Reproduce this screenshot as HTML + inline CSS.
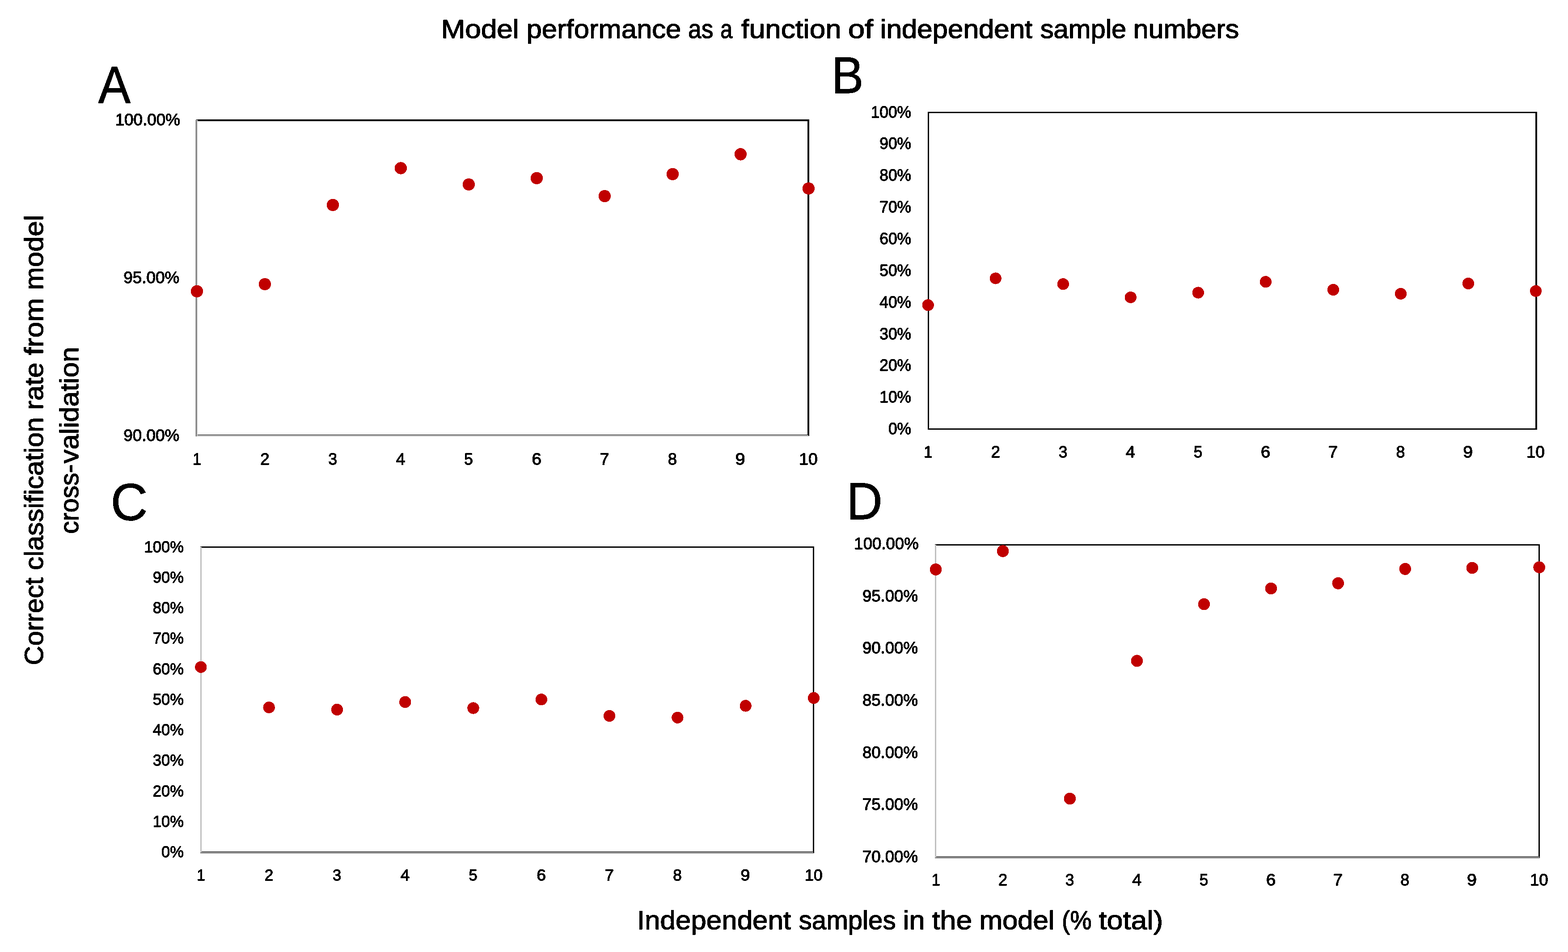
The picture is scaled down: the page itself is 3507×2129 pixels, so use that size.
<!DOCTYPE html>
<html lang="en">
<head>
<meta charset="utf-8">
<title>Model performance as a function of independent sample numbers</title>
<style>
html,body{margin:0;padding:0;background:#fff;}
body{width:3507px;height:2129px;overflow:hidden;}
svg{display:block;}
text{font-family:"Liberation Sans",sans-serif;fill:#000;stroke:#000;stroke-linejoin:round;font-kerning:none;text-rendering:geometricPrecision;}
.frame rect{shape-rendering:crispEdges;}
.pts circle{fill:#c00000;}
</style>
</head>
<body>
<svg width="3507" height="2129" viewBox="0 0 3507 2129">
<rect x="0" y="0" width="3507" height="2129" fill="#fff"/>
<g class="frame">
<g id="panel-a-frame">
<rect x="439" y="267" width="1371" height="4"/>
<rect x="1806" y="267" width="4" height="708"/>
<rect x="438" y="268" width="1" height="708"/>
<rect x="439" y="268" width="3" height="708" fill="#bfbfbf"/>
<rect x="442" y="972" width="1364" height="1"/>
<rect x="439" y="973" width="1369" height="3" fill="#bfbfbf"/>
</g>
<g id="panel-b-frame">
<rect x="2075" y="250" width="1363" height="3"/>
<rect x="2075" y="250" width="3" height="711"/>
<rect x="3434" y="250" width="4" height="711"/>
<rect x="2075" y="958" width="1363" height="3"/>
</g>
<g id="panel-c-frame">
<rect x="448" y="1222" width="1373" height="3"/>
<rect x="1818" y="1222" width="3" height="686"/>
<rect x="448" y="1223" width="3" height="684" fill="#bfbfbf"/>
<rect x="451" y="1904" width="1367" height="1"/>
<rect x="451" y="1905" width="1368" height="2" fill="#bfbfbf"/>
<rect x="448" y="1907" width="1371" height="1"/>
</g>
<g id="panel-d-frame">
<rect x="2091" y="1217" width="1353" height="3"/>
<rect x="3441" y="1217" width="3" height="702"/>
<rect x="2091" y="1218" width="3" height="699" fill="#bfbfbf"/>
<rect x="2094" y="1915" width="1347" height="1"/>
<rect x="2094" y="1916" width="1349" height="2" fill="#bfbfbf"/>
<rect x="2091" y="1918" width="1352" height="1"/>
</g>
</g>
<defs><filter id="bin" x="0" y="0" width="3507" height="2129" filterUnits="userSpaceOnUse" color-interpolation-filters="sRGB"><feComponentTransfer><feFuncA type="discrete" tableValues="0 0 1 1 1"/></feComponentTransfer></filter></defs>
<g class="labels" filter="url(#bin)">
<g id="titles-labels">
<text font-size="58.43" stroke-width="1.2"><tspan x="986.85" y="85" textLength="174.23" lengthAdjust="spacingAndGlyphs">Model</tspan> <tspan x="1177.63" y="85" textLength="345.60" lengthAdjust="spacingAndGlyphs">performance</tspan> <tspan x="1539.34" y="85" textLength="56.07" lengthAdjust="spacingAndGlyphs">as</tspan> <tspan x="1611.35" y="85" textLength="26.85" lengthAdjust="spacingAndGlyphs">a</tspan> <tspan x="1657.89" y="85" textLength="224.06" lengthAdjust="spacingAndGlyphs">function</tspan> <tspan x="1896.66" y="85" textLength="56.34" lengthAdjust="spacingAndGlyphs">of</tspan> <tspan x="1968.66" y="85" textLength="340.59" lengthAdjust="spacingAndGlyphs">independent</tspan> <tspan x="2326.74" y="85" textLength="192.62" lengthAdjust="spacingAndGlyphs">sample</tspan> <tspan x="2534.66" y="85" textLength="236.53" lengthAdjust="spacingAndGlyphs">numbers</tspan></text>
<text font-size="58.43" stroke-width="1.2"><tspan x="1424.89" y="2078" textLength="344.27" lengthAdjust="spacingAndGlyphs">Independent</tspan> <tspan x="1786.78" y="2078" textLength="216.72" lengthAdjust="spacingAndGlyphs">samples</tspan> <tspan x="2019.36" y="2078" textLength="49.36" lengthAdjust="spacingAndGlyphs">in</tspan> <tspan x="2084.73" y="2078" textLength="89.54" lengthAdjust="spacingAndGlyphs">the</tspan> <tspan x="2190.50" y="2078" textLength="168.13" lengthAdjust="spacingAndGlyphs">model</tspan> <tspan x="2375.02" y="2078" textLength="66.62" lengthAdjust="spacingAndGlyphs">(%</tspan> <tspan x="2457.62" y="2078" textLength="143.79" lengthAdjust="spacingAndGlyphs">total)</tspan></text>
<text transform="rotate(-90)" font-size="58.43" stroke-width="1.2"><tspan x="-1487.43" y="96" textLength="195.87" lengthAdjust="spacingAndGlyphs">Correct</tspan> <tspan x="-1274.96" y="96" textLength="341.67" lengthAdjust="spacingAndGlyphs">classification</tspan> <tspan x="-916.48" y="96" textLength="105.81" lengthAdjust="spacingAndGlyphs">rate</tspan> <tspan x="-794.40" y="96" textLength="127.82" lengthAdjust="spacingAndGlyphs">from</tspan> <tspan x="-648.70" y="96" textLength="168.34" lengthAdjust="spacingAndGlyphs">model</tspan> <tspan x="-1193.72" y="175" textLength="155.15" lengthAdjust="spacingAndGlyphs">cross-</tspan><tspan x="-1036.21" y="175" textLength="260.51" lengthAdjust="spacingAndGlyphs">validation</tspan></text>
</g>
<g id="panel-letters-labels">
<text transform="translate(219.79 230) scale(0.9253 1)" font-size="116.86" stroke-width="1">A</text>
<text transform="translate(1859.44 208) scale(0.9361 1)" font-size="115.41" stroke-width="1">B</text>
<text transform="translate(247.38 1163) scale(0.9810 1)" font-size="116.86" stroke-width="1">C</text>
<text transform="translate(1893.35 1161) scale(0.9550 1)" font-size="116.86" stroke-width="1">D</text>
</g>
<g id="panel-a-labels">
<text transform="translate(257.64 280) scale(1.0017 1)" font-size="36.77" stroke-width="1.1">100.00%</text>
<text transform="translate(276.33 633) scale(1.0017 1)" font-size="36.77" stroke-width="1.1">95.00%</text>
<text transform="translate(276.33 986) scale(1.0017 1)" font-size="36.77" stroke-width="1.1">90.00%</text>
<text transform="translate(430.92 1039) scale(0.9398 1)" font-size="36.77" stroke-width="1.1">1</text>
<text transform="translate(582.15 1039) scale(1.0028 1)" font-size="36.77" stroke-width="1.1">2</text>
<text transform="translate(734.13 1039) scale(0.9750 1)" font-size="36.77" stroke-width="1.1">3</text>
<text transform="translate(885.48 1039) scale(1.0307 1)" font-size="36.77" stroke-width="1.1">4</text>
<text transform="translate(1038.06 1039) scale(0.9750 1)" font-size="36.77" stroke-width="1.1">5</text>
<text transform="translate(1189.48 1039) scale(1.0549 1)" font-size="36.77" stroke-width="1.1">6</text>
<text transform="translate(1341.30 1039) scale(1.0349 1)" font-size="36.77" stroke-width="1.1">7</text>
<text transform="translate(1493.77 1039) scale(0.9910 1)" font-size="36.77" stroke-width="1.1">8</text>
<text transform="translate(1644.43 1039) scale(1.0832 1)" font-size="36.77" stroke-width="1.1">9</text>
<text transform="translate(1787.32 1039) scale(1.0118 1)" font-size="36.77" stroke-width="1.1">10</text>
</g>
<g id="panel-b-labels">
<text transform="translate(1947.66 263) scale(0.9606 1)" font-size="36.77" stroke-width="1.1">100%</text>
<text transform="translate(1967.31 333) scale(0.9606 1)" font-size="36.77" stroke-width="1.1">90%</text>
<text transform="translate(1967.31 404) scale(0.9606 1)" font-size="36.77" stroke-width="1.1">80%</text>
<text transform="translate(1967.31 475) scale(0.9606 1)" font-size="36.77" stroke-width="1.1">70%</text>
<text transform="translate(1967.31 546) scale(0.9606 1)" font-size="36.77" stroke-width="1.1">60%</text>
<text transform="translate(1967.31 617) scale(0.9606 1)" font-size="36.77" stroke-width="1.1">50%</text>
<text transform="translate(1967.31 688) scale(0.9606 1)" font-size="36.77" stroke-width="1.1">40%</text>
<text transform="translate(1967.31 759) scale(0.9606 1)" font-size="36.77" stroke-width="1.1">30%</text>
<text transform="translate(1967.31 829) scale(0.9606 1)" font-size="36.77" stroke-width="1.1">20%</text>
<text transform="translate(1967.31 900) scale(0.9606 1)" font-size="36.77" stroke-width="1.1">10%</text>
<text transform="translate(1986.95 971) scale(0.9606 1)" font-size="36.77" stroke-width="1.1">0%</text>
<text transform="translate(2066.38 1023) scale(0.9246 1)" font-size="36.77" stroke-width="1.1">1</text>
<text transform="translate(2216.64 1023) scale(0.9868 1)" font-size="36.77" stroke-width="1.1">2</text>
<text transform="translate(2367.65 1023) scale(0.9595 1)" font-size="36.77" stroke-width="1.1">3</text>
<text transform="translate(2518.04 1023) scale(1.0144 1)" font-size="36.77" stroke-width="1.1">4</text>
<text transform="translate(2669.64 1023) scale(0.9595 1)" font-size="36.77" stroke-width="1.1">5</text>
<text transform="translate(2820.10 1023) scale(1.0381 1)" font-size="36.77" stroke-width="1.1">6</text>
<text transform="translate(2970.95 1023) scale(1.0184 1)" font-size="36.77" stroke-width="1.1">7</text>
<text transform="translate(3122.44 1023) scale(0.9752 1)" font-size="36.77" stroke-width="1.1">8</text>
<text transform="translate(3272.15 1023) scale(1.0660 1)" font-size="36.77" stroke-width="1.1">9</text>
<text transform="translate(3414.22 1023) scale(0.9962 1)" font-size="36.77" stroke-width="1.1">10</text>
</g>
<g id="panel-c-labels">
<text transform="translate(322.62 1235) scale(0.9782 1)" font-size="35.32" stroke-width="1.1">100%</text>
<text transform="translate(341.83 1303) scale(0.9782 1)" font-size="35.32" stroke-width="1.1">90%</text>
<text transform="translate(341.83 1371) scale(0.9782 1)" font-size="35.32" stroke-width="1.1">80%</text>
<text transform="translate(341.83 1439) scale(0.9782 1)" font-size="35.32" stroke-width="1.1">70%</text>
<text transform="translate(341.83 1508) scale(0.9782 1)" font-size="35.32" stroke-width="1.1">60%</text>
<text transform="translate(341.83 1576) scale(0.9782 1)" font-size="35.32" stroke-width="1.1">50%</text>
<text transform="translate(341.83 1644) scale(0.9782 1)" font-size="35.32" stroke-width="1.1">40%</text>
<text transform="translate(341.83 1712) scale(0.9782 1)" font-size="35.32" stroke-width="1.1">30%</text>
<text transform="translate(341.83 1781) scale(0.9782 1)" font-size="35.32" stroke-width="1.1">20%</text>
<text transform="translate(341.83 1849) scale(0.9782 1)" font-size="35.32" stroke-width="1.1">10%</text>
<text transform="translate(361.05 1917) scale(0.9782 1)" font-size="35.32" stroke-width="1.1">0%</text>
<text transform="translate(440.20 1969) scale(0.9417 1)" font-size="35.32" stroke-width="1.1">1</text>
<text transform="translate(591.73 1969) scale(1.0051 1)" font-size="35.32" stroke-width="1.1">2</text>
<text transform="translate(744.00 1969) scale(0.9773 1)" font-size="35.32" stroke-width="1.1">3</text>
<text transform="translate(895.67 1969) scale(1.0334 1)" font-size="35.32" stroke-width="1.1">4</text>
<text transform="translate(1048.53 1969) scale(0.9773 1)" font-size="35.32" stroke-width="1.1">5</text>
<text transform="translate(1200.29 1969) scale(1.0575 1)" font-size="35.32" stroke-width="1.1">6</text>
<text transform="translate(1352.39 1969) scale(1.0374 1)" font-size="35.32" stroke-width="1.1">7</text>
<text transform="translate(1505.14 1969) scale(0.9933 1)" font-size="35.32" stroke-width="1.1">8</text>
<text transform="translate(1656.14 1969) scale(1.0860 1)" font-size="35.32" stroke-width="1.1">9</text>
<text transform="translate(1799.69 1969) scale(1.0155 1)" font-size="35.32" stroke-width="1.1">10</text>
</g>
<g id="panel-d-labels">
<text transform="translate(1910.36 1228) scale(0.9946 1)" font-size="36.77" stroke-width="1.1">100.00%</text>
<text transform="translate(1928.91 1345) scale(0.9946 1)" font-size="36.77" stroke-width="1.1">95.00%</text>
<text transform="translate(1928.91 1461) scale(0.9946 1)" font-size="36.77" stroke-width="1.1">90.00%</text>
<text transform="translate(1928.91 1578) scale(0.9946 1)" font-size="36.77" stroke-width="1.1">85.00%</text>
<text transform="translate(1928.91 1695) scale(0.9946 1)" font-size="36.77" stroke-width="1.1">80.00%</text>
<text transform="translate(1928.91 1811) scale(0.9946 1)" font-size="36.77" stroke-width="1.1">75.00%</text>
<text transform="translate(1928.91 1928) scale(0.9946 1)" font-size="36.77" stroke-width="1.1">70.00%</text>
<text transform="translate(2083.68 1980) scale(0.9246 1)" font-size="36.77" stroke-width="1.1">1</text>
<text transform="translate(2232.88 1980) scale(0.9868 1)" font-size="36.77" stroke-width="1.1">2</text>
<text transform="translate(2382.83 1980) scale(0.9595 1)" font-size="36.77" stroke-width="1.1">3</text>
<text transform="translate(2532.16 1980) scale(1.0144 1)" font-size="36.77" stroke-width="1.1">4</text>
<text transform="translate(2682.70 1980) scale(0.9595 1)" font-size="36.77" stroke-width="1.1">5</text>
<text transform="translate(2832.10 1980) scale(1.0381 1)" font-size="36.77" stroke-width="1.1">6</text>
<text transform="translate(2981.89 1980) scale(1.0184 1)" font-size="36.77" stroke-width="1.1">7</text>
<text transform="translate(3132.32 1980) scale(0.9752 1)" font-size="36.77" stroke-width="1.1">8</text>
<text transform="translate(3280.97 1980) scale(1.0660 1)" font-size="36.77" stroke-width="1.1">9</text>
<text transform="translate(3421.98 1980) scale(0.9962 1)" font-size="36.77" stroke-width="1.1">10</text>
</g>
</g>
<g class="pts" filter="url(#bin)">
<g id="panel-a-points">
<circle cx="440.4" cy="651.4" r="13.6"/>
<circle cx="592.4" cy="635.5" r="13.6"/>
<circle cx="744.4" cy="458.4" r="13.6"/>
<circle cx="896.4" cy="376.0" r="13.6"/>
<circle cx="1048.4" cy="412.5" r="13.6"/>
<circle cx="1200.4" cy="398.4" r="13.6"/>
<circle cx="1352.4" cy="438.6" r="13.6"/>
<circle cx="1504.4" cy="389.4" r="13.6"/>
<circle cx="1656.4" cy="344.8" r="13.6"/>
<circle cx="1808.4" cy="421.5" r="13.6"/>
</g>
<g id="panel-b-points">
<circle cx="2075.7" cy="682.3" r="13"/>
<circle cx="2226.7" cy="622.4" r="13"/>
<circle cx="2377.8" cy="635.3" r="13"/>
<circle cx="2528.8" cy="664.9" r="13"/>
<circle cx="2679.8" cy="654.5" r="13"/>
<circle cx="2830.8" cy="630.3" r="13"/>
<circle cx="2981.9" cy="648.0" r="13"/>
<circle cx="3132.9" cy="656.9" r="13"/>
<circle cx="3283.9" cy="634.0" r="13"/>
<circle cx="3435.0" cy="650.8" r="13"/>
</g>
<g id="panel-c-points">
<circle cx="449.3" cy="1491.8" r="13.05"/>
<circle cx="601.6" cy="1582.1" r="13.05"/>
<circle cx="753.9" cy="1586.9" r="13.05"/>
<circle cx="906.2" cy="1569.9" r="13.05"/>
<circle cx="1058.5" cy="1583.5" r="13.05"/>
<circle cx="1210.8" cy="1564.2" r="13.05"/>
<circle cx="1363.1" cy="1601.0" r="13.05"/>
<circle cx="1515.4" cy="1604.8" r="13.05"/>
<circle cx="1667.7" cy="1578.4" r="13.05"/>
<circle cx="1820.0" cy="1560.9" r="13.05"/>
</g>
<g id="panel-d-points">
<circle cx="2093.0" cy="1273.4" r="13.2"/>
<circle cx="2243.0" cy="1232.4" r="13.2"/>
<circle cx="2392.9" cy="1785.9" r="13.2"/>
<circle cx="2542.9" cy="1477.8" r="13.2"/>
<circle cx="2692.9" cy="1351.1" r="13.2"/>
<circle cx="2842.8" cy="1315.9" r="13.2"/>
<circle cx="2992.8" cy="1304.3" r="13.2"/>
<circle cx="3142.8" cy="1272.3" r="13.2"/>
<circle cx="3292.8" cy="1269.9" r="13.2"/>
<circle cx="3442.7" cy="1268.6" r="13.2"/>
</g>
</g>
</svg>
</body>
</html>
